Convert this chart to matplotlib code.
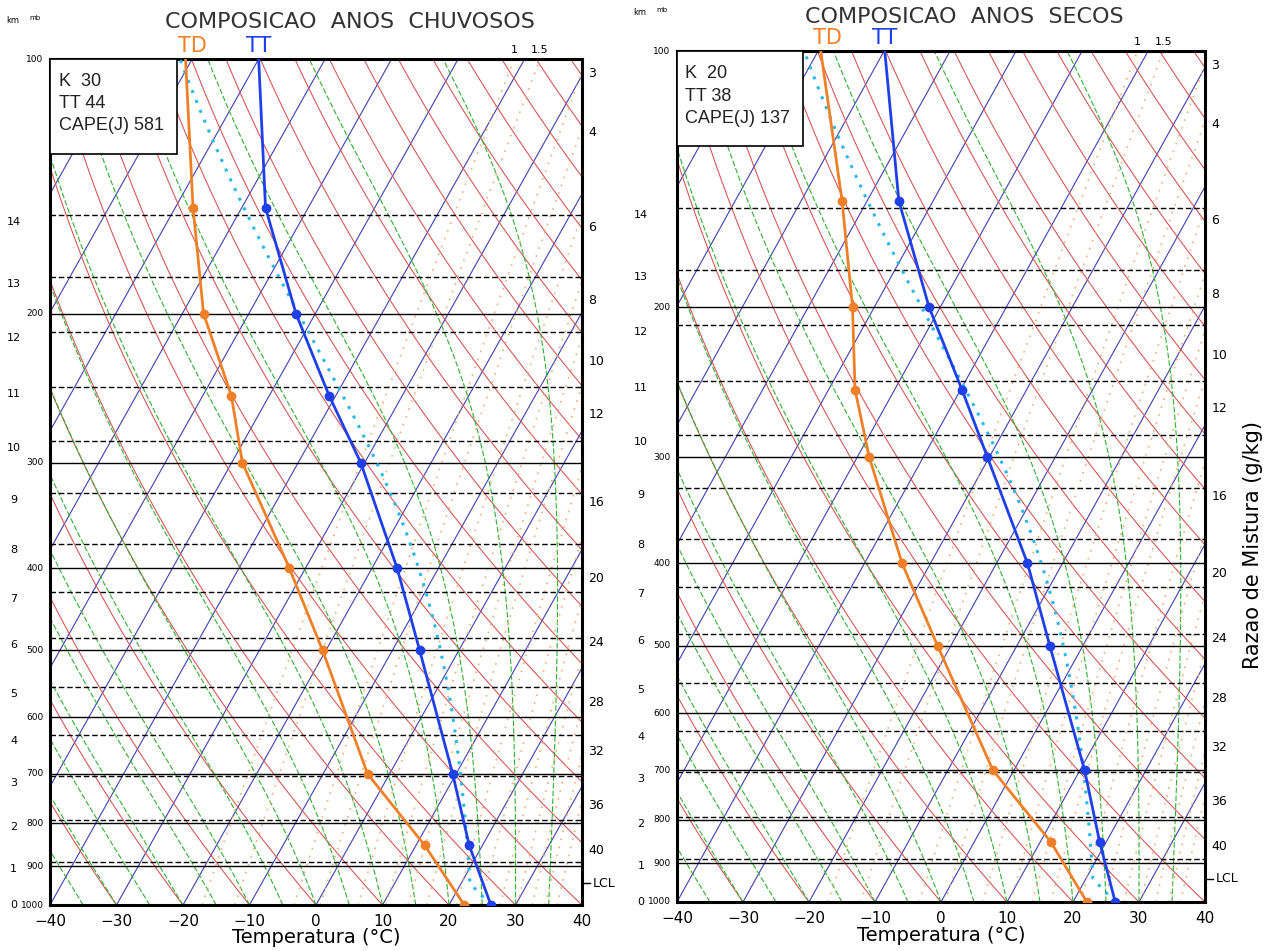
import numpy as np
import matplotlib.pyplot as plt
from matplotlib.patches import Rectangle
from matplotlib.transforms import blended_transform_factory

W, H = 1267, 951
SKEW = 31.0  # deg C of horizontal shift per unit of ln(1000/p)

# composite soundings (deg C) at standard levels
levels = [1000, 850, 700, 500, 400, 300, 250, 200, 150, 100]
tt_chuvosos = [26.3, 18.0, 9.5, -5.9, -16.2, -30.6, -41.0, -52.9, -66.4, -80.0]
td_chuvosos = [22.3, 11.3, -3.3, -20.5, -32.4, -48.4, -55.7, -66.8, -77.3, -91.0]
tt_secos = [26.4, 19.0, 10.7, -5.0, -15.3, -30.3, -39.8, -51.7, -65.2, -79.9]
td_secos = [22.1, 11.6, -3.2, -22.0, -34.3, -48.2, -56.0, -63.3, -73.8, -89.6]

# indices shown in the box
idx_chuvosos = [("K", 30), ("TT", 44), ("CAPE(J)", 581)]
idx_secos = [("K", 20), ("TT", 38), ("CAPE(J)", 137)]

# reference levels
mand_press = [200, 300, 400, 500, 600, 700, 800, 900]
km_labels = [1, 2, 3, 4, 5, 6, 7, 8, 9, 10, 11, 12, 13, 14]
km_press = [890, 794, 704, 629, 553, 484, 427, 374, 326, 283, 244, 210, 181, 153]
x_ticks = [-40, -30, -20, -10, 0, 10, 20, 30, 40]

# mixing ratio lines (g/kg); top ones labelled above the frame,
# the rest labelled on the right edge at the given pressure
mix_top = [1, 1.5]
mix_side = [3, 4, 6, 8, 10, 12, 16, 20, 24, 28, 32, 36, 40]
mix_side_press = [104, 122, 158, 193, 228, 263, 334, 411, 490, 576, 659, 762, 861]

Rd, Cp, Lv, EPS = 287.04, 1005.7, 2.501e6, 0.622
p_grid = np.geomspace(1000, 100, 400)


def skew(t, p):
    return np.asarray(t, float) + SKEW * np.log(1000.0 / np.asarray(p, float))


def esat(tc):
    return 6.112 * np.exp(17.67 * tc / (tc + 243.5))


def dewpoint_from_e(e):
    a = np.log(e / 6.112)
    return 243.5 * a / (17.67 - a)


def mix_line(w):
    e = (w / 1000.0) * p_grid / (EPS + w / 1000.0)
    return skew(dewpoint_from_e(e), p_grid)


def moist_dtdp(tk, p):
    es = esat(tk - 273.15)
    rs = EPS * es / (p - es)
    return (Rd * tk + Lv * rs) / p / (Cp + Lv * Lv * rs * EPS / (Rd * tk * tk))


def moist_path(t0, press):
    tk = t0 + 273.15
    out = [tk]
    for i in range(1, len(press)):
        dp = press[i] - press[i - 1]
        k1 = moist_dtdp(tk, press[i - 1])
        k2 = moist_dtdp(tk + k1 * dp, press[i])
        tk = tk + 0.5 * (k1 + k2) * dp
        out.append(tk)
    return np.array(out) - 273.15


def parcel(t0, td0, p0=1000.0):
    tk, tdk = t0 + 273.15, td0 + 273.15
    t_lcl = 1.0 / (1.0 / (tdk - 56.0) + np.log(tk / tdk) / 800.0) + 56.0
    p_lcl = p0 * (t_lcl / tk) ** (Cp / Rd)
    p_dry = np.geomspace(p0, p_lcl, 30)
    t_dry = tk * (p_dry / p0) ** (Rd / Cp) - 273.15
    p_wet = np.geomspace(p_lcl, 100, 300)
    t_wet = moist_path(t_lcl - 273.15, p_wet)
    return np.concatenate([p_dry, p_wet]), np.concatenate([t_dry, t_wet]), p_lcl


def draw_panel(rect, title, tt, td, idx, title_xy, show_ylabel):
    ax = fig.add_axes(rect)
    ax.set_yscale("log")
    ax.set_ylim(1000, 100)
    ax.set_xlim(-40, 40)
    ax.set_xticks([])
    ax.set_yticks([])
    ax.minorticks_off()
    for s in ax.spines.values():
        s.set_linewidth(2.2)
    lab_tr = blended_transform_factory(ax.transAxes, ax.transData)

    # isotherms
    for t0 in range(-120, 41, 10):
        ax.plot(skew(t0, p_grid), p_grid, color="#4040b0", lw=0.8, zorder=1)
    # dry adiabats
    for th in range(-40, 201, 10):
        t = (th + 273.15) * (p_grid / 1000.0) ** (Rd / Cp) - 273.15
        ax.plot(skew(t, p_grid), p_grid, color="#d45050", lw=0.75, zorder=1)
    # saturated adiabats
    for t0 in range(-40, 41, 5):
        t = moist_path(t0, p_grid)
        ax.plot(skew(t, p_grid), p_grid, color="#30b030", lw=0.8,
                ls=(0, (5, 2)), zorder=1)
    # mixing ratio lines
    for w in mix_top + mix_side:
        ax.plot(mix_line(w), p_grid, color="#f0b070", lw=1.2,
                ls=(0, (1, 4)), zorder=1)
    for w in mix_top:
        ax.text(mix_line(w)[-1], 100 * 0.99, f"{w:g}", ha="center",
                va="bottom", fontsize=8, clip_on=False)
    for w, p in zip(mix_side, mix_side_press):
        ax.text(1.012, p, f"{w:g}", transform=lab_tr, ha="left",
                va="center", fontsize=9)

    # pressure and height levels
    for p in mand_press:
        ax.axhline(p, color="black", lw=1.0, zorder=2)
    for p in km_press:
        ax.axhline(p, color="black", lw=1.0, ls=(0, (4, 2)), zorder=2)

    # parcel ascent
    pp, tp, p_lcl = parcel(tt[0], td[0])
    ax.plot(skew(tp, pp), pp, color="#2ab8e8", lw=2.2, ls=(0, (1, 2.5)), zorder=3)
    ax.plot([1.0, 1.015], [p_lcl, p_lcl], color="black", lw=1,
            transform=lab_tr, clip_on=False)
    ax.text(1.02, p_lcl, "LCL", transform=lab_tr, ha="left", va="center",
            fontsize=9)

    # soundings
    ax.plot(skew(td, levels), levels, color="#f08028", lw=2, zorder=4)
    ax.plot(skew(td[:-1], levels[:-1]), levels[:-1], "o", color="#f08028",
            ms=6, zorder=4)
    ax.plot(skew(tt, levels), levels, color="#1f3fe8", lw=2, zorder=4)
    ax.plot(skew(tt[:-1], levels[:-1]), levels[:-1], "o", color="#1f3fe8",
            ms=6, zorder=4)
    ax.text(skew(td[-1], 100) + 1.0, 100 * 0.992, "TD", color="#f08028",
            fontsize=15, ha="center", va="bottom", clip_on=False)
    ax.text(skew(tt[-1], 100), 100 * 0.992, "TT", color="#1f3fe8",
            fontsize=15, ha="center", va="bottom", clip_on=False)

    # index box
    ax.add_patch(Rectangle((0, 0.888), 0.239, 0.112, transform=ax.transAxes,
                           facecolor="white", edgecolor="black", lw=1.2,
                           zorder=6))
    for i, (name, val) in enumerate(idx):
        sep = "  " if name == "K" else " "
        ax.text(0.016, 0.973 - i * 0.026, f"{name}{sep}{val}",
                transform=ax.transAxes, ha="left", va="center", fontsize=13,
                family="Liberation Sans", color="#222222", zorder=7)

    # left labels: mb and km
    for p in [100] + mand_press + [1000]:
        ax.text(-0.012, p, str(p), transform=lab_tr, ha="right", va="center",
                fontsize=6.5)
    for k, p in zip(km_labels, km_press):
        ax.text(-0.068, p * 1.005, str(k), transform=lab_tr, ha="center",
                va="top", fontsize=8)
    ax.text(-0.068, 1000, "0", transform=lab_tr, ha="center", va="center",
            fontsize=8)
    ax.text(-0.07, 1.04, "km", transform=ax.transAxes, ha="center",
            va="bottom", fontsize=6)
    ax.text(-0.028, 1.045, "mb", transform=ax.transAxes, ha="center",
            va="bottom", fontsize=5)

    # temperature axis
    for t in x_ticks:
        ax.text(t, 1000 * 1.045, f"{t}".replace("-", "\u2212"),
                ha="center", va="center", fontsize=11, clip_on=False)
    ax.text(0.5, -0.039, "Temperatura (\u00b0C)", transform=ax.transAxes,
            ha="center", va="center", fontsize=14)

    fig.text(title_xy[0] / W, 1 - title_xy[1] / H, title, ha="center",
             va="center", fontsize=16, color="#333333")
    if show_ylabel:
        ax.text(1.09, 0.42, "Razao de Mistura (g/kg)", transform=ax.transAxes,
                rotation=90, ha="center", va="center", fontsize=15)
    return ax


fig = plt.figure(figsize=(W / 100, H / 100), dpi=100)
fig.patch.set_facecolor("white")

draw_panel([50 / W, 1 - 905 / H, 532 / W, 846 / H], "COMPOSICAO  ANOS  CHUVOSOS",
           tt_chuvosos, td_chuvosos, idx_chuvosos, (350, 22), False)
draw_panel([677 / W, 1 - 902 / H, 528 / W, 851 / H], "COMPOSICAO  ANOS  SECOS",
           tt_secos, td_secos, idx_secos, (964, 17), True)

fig.savefig("out.png", dpi=100)
